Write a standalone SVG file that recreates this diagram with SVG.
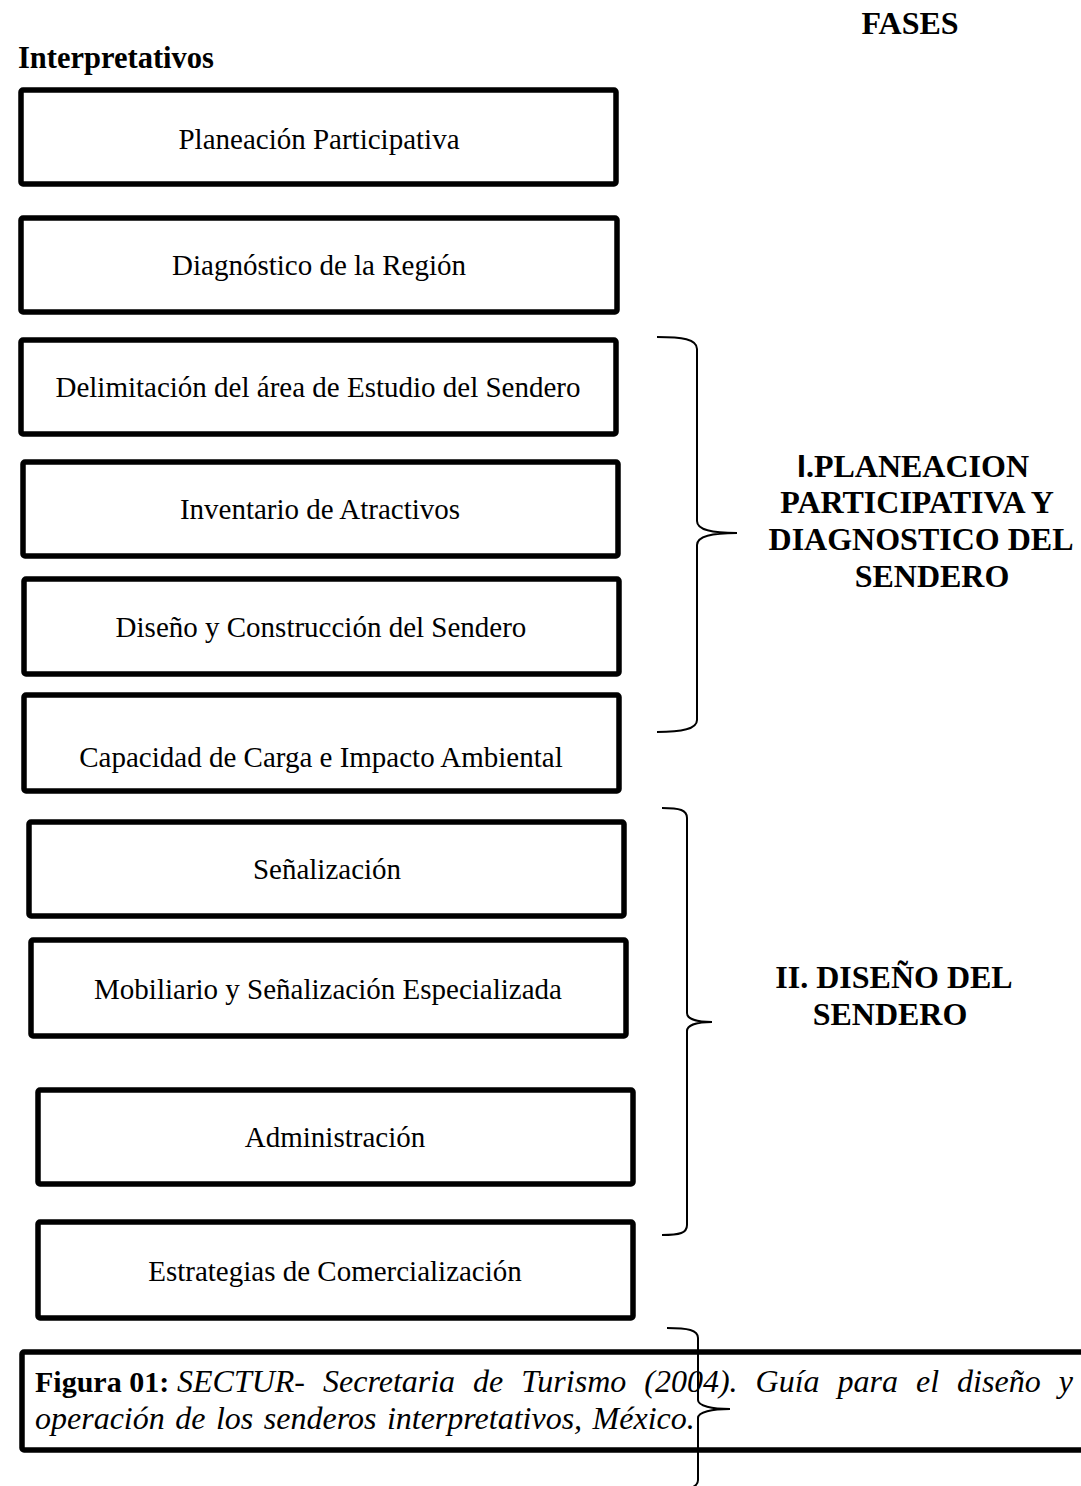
<svg xmlns="http://www.w3.org/2000/svg" width="1081" height="1486" viewBox="0 0 1081 1486">
<style>
.box{fill:#fff;stroke:#000;stroke-width:5.5}
.bt{font-family:"Liberation Serif","Times New Roman",serif;font-size:29px;text-anchor:middle;fill:#000}
.hd{font-family:"Liberation Serif","Times New Roman",serif;font-size:32px;font-weight:bold;fill:#000}
.br{fill:none;stroke:#000;stroke-width:2}
.cap{font-family:"Liberation Serif","Times New Roman",serif;font-size:30px;fill:#000}
.it{font-style:italic;font-size:32px}
</style>
<rect width="1081" height="1486" fill="#fff"/>
<text class="hd" x="910" y="34" text-anchor="middle">FASES</text>
<text class="hd" x="18" y="68" style="font-size:30.5px">Interpretativos</text>

<g id="n1"><rect class="box" x="21" y="90" width="595" height="94" rx="2"/><text class="bt" x="319" y="149">Planeación Participativa</text></g>
<g id="n2"><rect class="box" x="21" y="218" width="596" height="94" rx="2"/><text class="bt" x="319" y="275">Diagnóstico de la Región</text></g>
<g id="n3"><rect class="box" x="21" y="340" width="595" height="94" rx="2"/><text class="bt" x="318" y="397">Delimitación del área de Estudio del Sendero</text></g>
<g id="n4"><rect class="box" x="23" y="462" width="595" height="94" rx="2"/><text class="bt" x="320" y="519">Inventario de Atractivos</text></g>
<g id="n5"><rect class="box" x="24" y="579" width="595" height="95" rx="2"/><text class="bt" x="321" y="637">Diseño y Construcción del Sendero</text></g>
<g id="n6"><rect class="box" x="24" y="695" width="595" height="96" rx="2"/><text class="bt" x="321" y="767">Capacidad de Carga e Impacto Ambiental</text></g>
<g id="n7"><rect class="box" x="29" y="822" width="595" height="94" rx="2"/><text class="bt" x="327" y="879">Señalización</text></g>
<g id="n8"><rect class="box" x="31" y="940" width="595" height="96" rx="2"/><text class="bt" x="328" y="999">Mobiliario y Señalización Especializada</text></g>
<g id="n9"><rect class="box" x="38" y="1090" width="595" height="94" rx="2"/><text class="bt" x="335" y="1147">Administración</text></g>
<g id="n10"><rect class="box" x="38" y="1222" width="595" height="96" rx="2"/><text class="bt" x="335" y="1281">Estrategias de Comercialización</text></g>

<g id="phase1">
<text class="hd" x="797" y="477"><tspan font-family="'Liberation Sans',Arial,sans-serif">I</tspan>.PLANEACION</text>
<text class="hd" x="917" y="513" text-anchor="middle">PARTICIPATIVA Y</text>
<text class="hd" x="921" y="550" text-anchor="middle">DIAGNOSTICO DEL</text>
<text class="hd" x="932" y="587" text-anchor="middle">SENDERO</text>
</g>
<g id="phase2">
<text class="hd" x="894" y="988" text-anchor="middle">II. DISEÑO DEL</text>
<text class="hd" x="890" y="1025" text-anchor="middle">SENDERO</text>
</g>

<g id="caption">
<rect class="box" x="22" y="1352" width="1075" height="98" rx="2" stroke-width="6"/>
<text class="cap" x="35" y="1392"><tspan font-weight="bold">Figura 01:</tspan><tspan class="it" x="177" word-spacing="10">SECTUR- Secretaria de Turismo (2004). Guía para el diseño y</tspan></text>
<text class="cap it" x="35" y="1429" word-spacing="2.5">operación de los senderos interpretativos, México.</text>
</g>

<g id="connectors">
<path class="br" d="M657,337 C682,337 697,339 697,349 L697,521 C697,530 712,533 737,533 C712,533 697,536 697,545 L697,720 C697,729 682,732 657,732"/>
<path class="br" d="M662,808 C680,808 687,810 687,818 L687,1013 C687,1019 697,1022 712,1022 C697,1022 687,1025 687,1031 L687,1225 C687,1233 680,1235 662,1235"/>
<path class="br" d="M667,1328 C688,1328 698,1330 698,1338 L698,1400 C698,1406 712,1409 730,1409 C712,1409 698,1412 698,1418 L698,1480 C698,1488 688,1490 667,1490"/>
</g>
</svg>
